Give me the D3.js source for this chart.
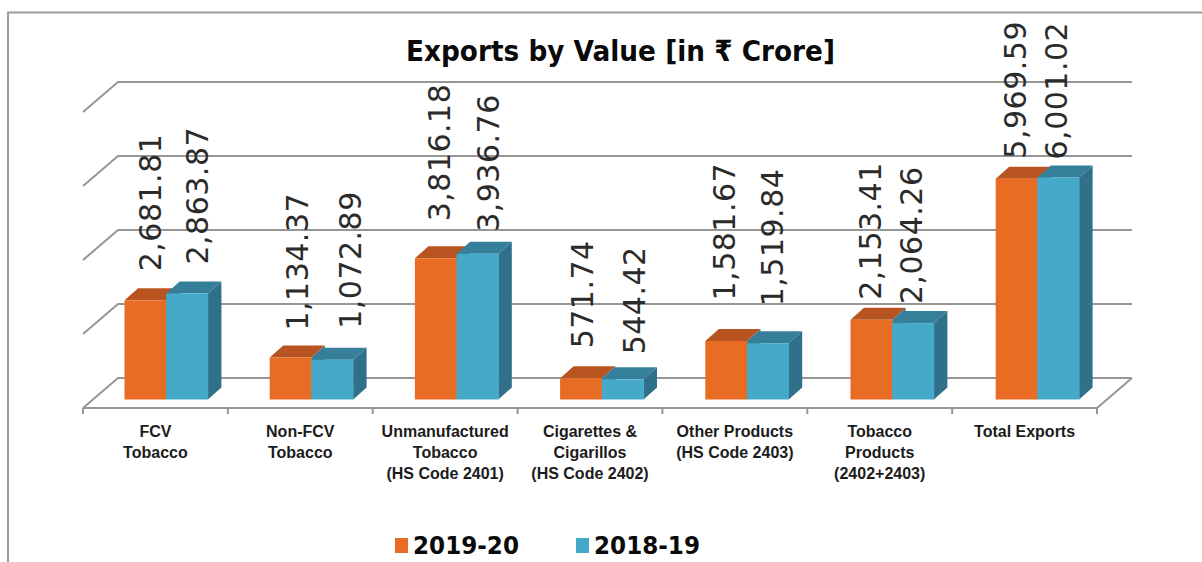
<!DOCTYPE html>
<html>
<head>
<meta charset="utf-8">
<script src="https://cdn.jsdelivr.net/npm/d3@7"></script>
<style>
html,body{margin:0;padding:0;background:#fff;overflow:hidden}
svg{display:block}
</style>
</head>
<body>
<svg id="chart" width="1202" height="562"></svg>
<script>
// ---- data ----
const title = "Exports by Value [in ₹ Crore]";
const categories = ["FCV Tobacco","Non-FCV Tobacco","Unmanufactured Tobacco (HS Code 2401)","Cigarettes & Cigarillos (HS Code 2402)","Other Products (HS Code 2403)","Tobacco Products (2402+2403)","Total Exports"];
const categoryLines = [["FCV","Tobacco"],["Non-FCV","Tobacco"],["Unmanufactured","Tobacco","(HS Code 2401)"],["Cigarettes &","Cigarillos","(HS Code 2402)"],["Other Products","(HS Code 2403)"],["Tobacco","Products","(2402+2403)"],["Total Exports"]];
const seriesNames = ["2019-20","2018-19"];
const values2019 = [2681.81,1134.37,3816.18,571.74,1581.67,2153.41,5969.59];
const values2018 = [2863.87,1072.89,3936.76,544.42,1519.84,2064.26,6001.02];
const gridTicks = [0,2000,4000,6000,8000];

// ---- label placement relative to each bar's top (hand-placed in the original) ----
const labelShiftX = [[16,17.5,14,12,9,10,9.5],[21,29,22,22,15,9,9]];
const labelGap = [[29,27,37,30,40.5,20,20],[29,31,22,25,37,19,18]];

// ---- style ----
const faceColors = [
  {front:"#E86C24",top:"#B85420"},
  {front:"#45A9C9",top:"#357F9A",side:"#30708A"}
];
const lineColor = "#969696";
const sansBold = "'DejaVu Sans',Verdana,sans-serif";
const armBold = "'Liberation Sans',Arial,sans-serif";

// ---- geometry ----
const svg = d3.select("#chart");
const floorFront = 408, depthY = 30;
const y = d3.scaleLinear().domain([0,8000]).range([399.5,103.5]);
const wallShift = -21.5;
const x0 = d3.scaleBand().domain(categories).range([124.5,1079.1]).paddingInner(0.4256).paddingOuter(0);
const x1 = d3.scaleBand().domain(seriesNames).range([0,x0.bandwidth()]);
const xTick = d3.scaleBand().domain(categories).range([83,1097]);
const barDX = 13.5, barDY = 12;

// frame
svg.append("path").attr("d","M8,562V12.5H1202").attr("fill","none").attr("stroke","#9c9c9c").attr("stroke-width",2);

// grid: back wall + side wall
const g = svg.append("g").attr("fill","none").attr("stroke",lineColor).attr("stroke-width",2);
const backL = 118, backR = 1132, frontL = 83, frontR = 1097;
g.selectAll("path.grid").data(gridTicks).join("path").attr("class","grid")
  .attr("d",t=>{const yy=y(t)+wallShift;return `M${frontL},${yy+depthY}L${backL},${yy}H${backR}`;});
// floor
g.append("path").attr("d",`M${frontL},${floorFront}H${frontR}L${backR},${floorFront-depthY}`);
// ticks
g.selectAll("line.tick").data(categories.concat(["__end"])).join("line").attr("class","tick")
  .attr("x1",(d,i)=>i<categories.length?xTick(d):frontR)
  .attr("x2",(d,i)=>i<categories.length?xTick(d):frontR)
  .attr("y1",floorFront).attr("y2",floorFront+6);

// bars
const rows = categories.map((c,i)=>({c,i,items:[
  {s:0,v:values2019[i],name:seriesNames[0]},
  {s:1,v:values2018[i],name:seriesNames[1]}]}));
const barG = svg.selectAll("g.cat").data(rows).join("g").attr("class","cat")
  .attr("transform",d=>`translate(${x0(d.c)},0)`);
barG.each(function(d){
  const sel = d3.select(this);
  const a = d.items[0], b = d.items[1], w = x1.bandwidth(), base = y(0);
  // orange column's hidden side: fills the wedge when it stands taller than its neighbour
  sel.append("path").attr("fill",faceColors[1].top)
    .attr("d",`M${x1(a.name)+w},${y(a.v)}l${barDX},${-barDY}V${base-barDY}L${x1(a.name)+w},${base}Z`);
  // side of right-hand bar
  sel.append("path").attr("fill",faceColors[1].side)
    .attr("d",`M${x1(b.name)+w},${y(b.v)}l${barDX},${-barDY}V${base-barDY}L${x1(b.name)+w},${base}Z`);
  // tops, shorter first so the taller column's top wins
  d.items.slice().sort((p,q)=>p.v-q.v).forEach(it=>{
    sel.append("path").attr("fill",faceColors[it.s].top)
      .attr("d",`M${x1(it.name)},${y(it.v)}l${barDX},${-barDY}h${w}l${-barDX},${barDY}Z`);
  });
  d.items.forEach(it=>{
    sel.append("rect").attr("x",x1(it.name)).attr("y",y(it.v))
      .attr("width",w+0.3).attr("height",base-y(it.v)).attr("fill",faceColors[it.s].front);
  });
});

// value labels
barG.each(function(d){
  const sel = d3.select(this);
  d.items.forEach(it=>{
    const cx = x1(it.name)+x1.bandwidth()/2+labelShiftX[it.s][d.i];
    const by = y(it.v)-labelGap[it.s][d.i];
    sel.append("text").attr("transform",`translate(${cx},${by}) rotate(-90)`)
      .attr("font-family",sansBold).attr("font-size",30).attr("letter-spacing",0.5).attr("fill","#2b2b2b")
      .text(d3.format(",.2f")(it.v));
  });
});

// category labels
const catText = svg.selectAll("text.cat").data(rows).join("text").attr("class","cat")
  .attr("text-anchor","middle").attr("font-family",armBold).attr("font-weight","bold")
  .attr("font-size",16).attr("fill","#1c1c1c");
catText.each(function(d){
  d3.select(this).selectAll("tspan").data(categoryLines[d.i]).join("tspan")
    .attr("x",xTick(d.c)+xTick.bandwidth()/2)
    .attr("y",(l,j)=>436.5+j*21.3).text(l=>l);
});

// title
svg.append("text").attr("x",620.5).attr("y",61).attr("text-anchor","middle")
  .attr("font-family",sansBold).attr("font-weight","bold").attr("font-size",29)
  .attr("textLength",429).attr("lengthAdjust","spacingAndGlyphs").attr("fill","#0a0a0a").text(title);

// legend
const legX = d3.scaleOrdinal().domain(seriesNames).range([395,576]);
const leg = svg.selectAll("g.leg").data(seriesNames).join("g").attr("class","leg")
  .attr("transform",d=>`translate(${legX(d)},0)`);
leg.append("rect").attr("y",538).attr("width",13).attr("height",15).attr("fill",(d,i)=>faceColors[i].front);
leg.append("text").attr("x",18).attr("y",554).attr("font-family",sansBold).attr("font-weight","bold")
  .attr("font-size",24).attr("textLength",106).attr("lengthAdjust","spacingAndGlyphs").attr("fill","#0a0a0a").text(d=>d);
</script>
</body>
</html>
